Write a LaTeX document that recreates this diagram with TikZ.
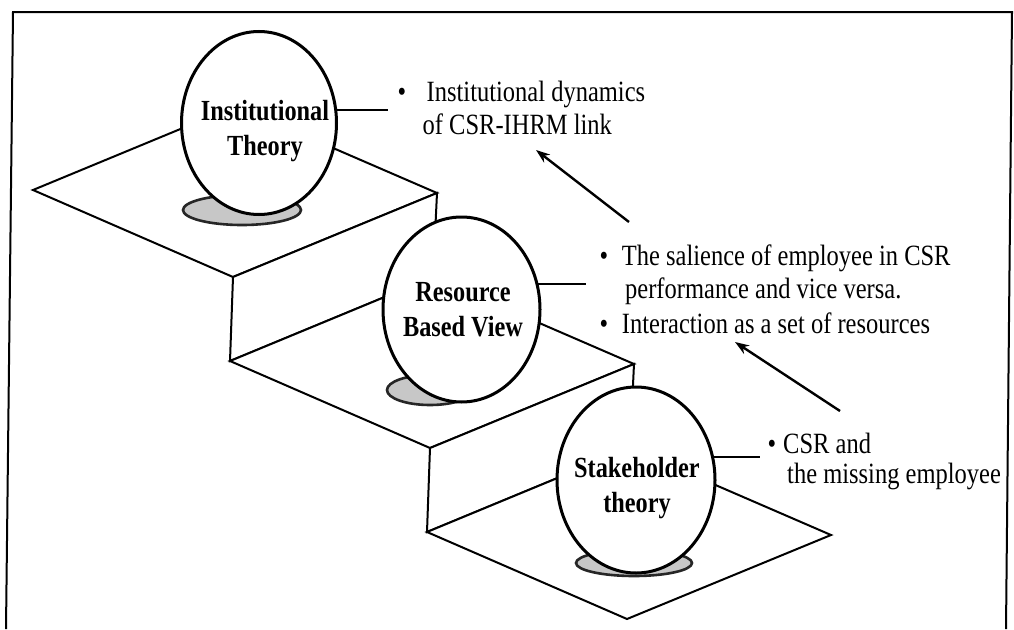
\documentclass[tikz,border=0pt]{standalone}
\usepackage{fontspec}
\setmainfont{Liberation Serif}
\usepackage{graphicx}
\usetikzlibrary{shapes.geometric,arrows.meta}
\pgfdeclarelayer{back}
\pgfsetlayers{back,main}

% tall, narrow lettering as in the printed figure
\newcommand\tallrm[1]{\scalebox{1}[1.2]{\fontsize{24.5}{26.5}\selectfont #1}}
\newcommand\tallbf[1]{\scalebox{1}[1.2]{\fontsize{24.3}{28.75}\selectfont\bfseries\begin{tabular}{@{}c@{}}#1\end{tabular}}}

\begin{document}
\begin{tikzpicture}[x=1pt,y=-1pt,
  edge/.style={line width=2pt, line join=miter},
  face/.style={edge, fill=white},
  ball/.style={ellipse, draw, fill=white, line width=3pt, inner sep=0pt},
  ballshadow/.style={fill=black!22, draw=black!85, line width=2.6pt},
  link/.style={line width=1.8pt},
  pointer/.style={line width=2.4pt, -{Stealth[length=14pt,width=10pt]}},
  txt/.style={anchor=base west, inner sep=0pt},
  dot/.style={anchor=base, inner sep=0pt},
  labeltext/.style={inner sep=0pt}]

\useasboundingbox (0,0) rectangle (1014,629);

\begin{pgfonlayer}{back}
  % outer frame (open at the bottom)
  \draw[edge] (6,629) -- (13,12) -- (1012,12) -- (1006,629);

  % three stair treads and the two risers between them
  \draw[face] (33,190) -- (236,106) -- (437,193) -- (233,277) -- cycle;
  \draw[face] (233,277) -- (437,193) -- (433,277) -- (230,361) -- cycle;
  \draw[face] (230,361) -- (433,277) -- (634,364) -- (430,448) -- cycle;
  \draw[face] (430,448) -- (634,364) -- (630,448) -- (427,532) -- cycle;
  \draw[face] (427,532) -- (630,448) -- (831,535) -- (627,619) -- cycle;

  % cast shadows under the balls
  \draw[ballshadow] (242,210) ellipse [x radius=59, y radius=15];
  \draw[ballshadow] (430,390) ellipse [x radius=43, y radius=15];
  \draw[ballshadow] (634,563) ellipse [x radius=58, y radius=13];
\end{pgfonlayer}

% the three theories
\node[ball, minimum width=155, minimum height=183] (c1) at (259,123) {};
\node[ball, minimum width=157, minimum height=185] (c2) at (461.5,309.5) {};
\node[ball, minimum width=158, minimum height=186] (c3) at (636,480) {};
\node[labeltext] (c1t) at (265,131) {\tallbf{Institutional\\Theory}};
\node[labeltext] (c2t) at (463,312) {\tallbf{Resource\\Based View}};
\node[labeltext] (c3t) at (637,488) {\tallbf{Stakeholder\\theory}};

% bullet notes
\node[dot] (b1) at (402,101.7) {\tallrm{\textbullet}};
\node[txt] (t1a) at (426.5,101.7) {\tallrm{Institutional dynamics}};
\node[txt] (t1b) at (422.5,134) {\tallrm{of CSR-IHRM link}};

\node[dot] (b2) at (604,265) {\tallrm{\textbullet}};
\node[txt] (t2a) at (621.7,265) {\tallrm{The salience of employee in CSR}};
\node[txt] (t2b) at (625,298) {\tallrm{performance and vice versa.}};
\node[dot] (b3) at (604,333) {\tallrm{\textbullet}};
\node[txt] (t2c) at (621.7,333) {\tallrm{Interaction as a set of resources}};

\node[dot] (b4) at (772,453) {\tallrm{\textbullet}};
\node[txt] (t3a) at (783,453) {\tallrm{CSR and}};
\node[txt] (t3b) at (787,483) {\tallrm{the missing employee}};

% short leaders from each ball to its notes
\coordinate (k1) at (388,110);
\coordinate (k2) at (586,284);
\coordinate (k3) at (760,457);
\begin{pgfonlayer}{back}
  \draw[link] (c1.center |- k1) -- (k1);
  \draw[link] (c2.center |- k2) -- (k2);
  \draw[link] (c3.center |- k3) -- (k3);
\end{pgfonlayer}

% upward arrows between the levels
\coordinate (a1s) at (629,222);
\coordinate (a1e) at (536,150);
\coordinate (a2s) at (840,411);
\coordinate (a2e) at (735,342);
\draw[pointer] (a1s) -- (a1e);
\draw[pointer] (a2s) -- (a2e);
\end{tikzpicture}
\end{document}
